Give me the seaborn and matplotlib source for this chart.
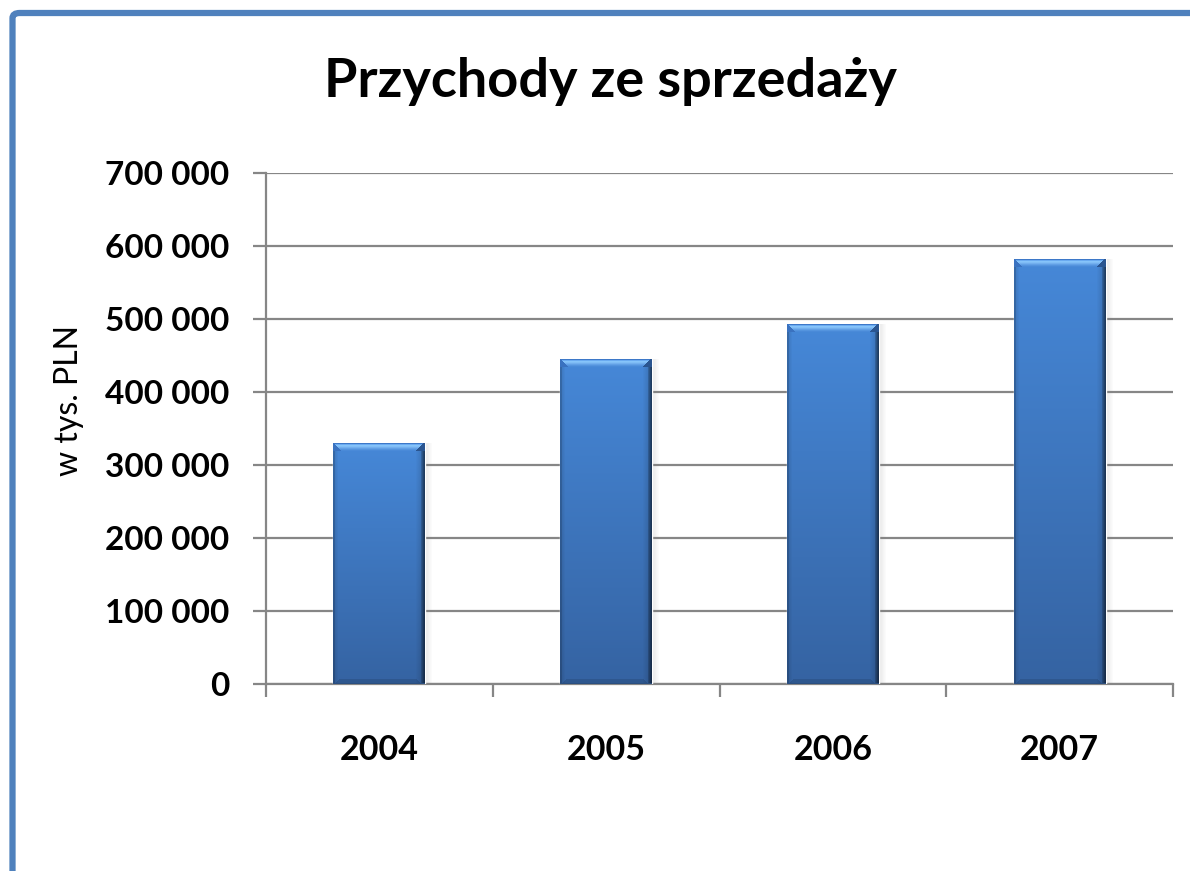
import numpy as np
import pandas as pd
import matplotlib
matplotlib.use("Agg")
import matplotlib.pyplot as plt
import seaborn as sns
from matplotlib.ticker import FuncFormatter, FixedLocator
from matplotlib.patches import FancyBboxPatch
from matplotlib.colors import to_rgb

# ---- data ----
years = ["2004", "2005", "2006", "2007"]
revenue = [330000, 445000, 493000, 582000]
y_ticks = [0, 100000, 200000, 300000, 400000, 500000, 600000, 700000]
title = "Przychody ze sprzedaży"
ylabel = "w tys. PLN"

sns.set_theme(style="white")
plt.rcParams["font.family"] = ["Lato", "DejaVu Sans"]

W, H, DPI = 1190, 871, 100
fig = plt.figure(figsize=(W / DPI, H / DPI), dpi=DPI)
fig.patch.set_facecolor("white")

ax_l, ax_r, ax_t, ax_b = 266, 1173, 173, 684
ax = fig.add_axes([ax_l / W, 1 - ax_b / H, (ax_r - ax_l) / W, (ax_b - ax_t) / H])

df = pd.DataFrame({"year": years, "revenue": revenue})
sns.barplot(data=df, x="year", y="revenue", color="#4282d2", width=0.405,
            ax=ax, zorder=3, saturation=1)

ax.set_xlim(-0.5, len(years) - 0.5)
ax.set_ylim(y_ticks[0], y_ticks[-1])
ax.yaxis.set_major_locator(FixedLocator(y_ticks))
ax.yaxis.set_major_formatter(FuncFormatter(lambda v, p: f"{int(v):,}".replace(",", " ")))

grid_c = "#868686"
ax.yaxis.grid(True, color=grid_c, lw=1.6)
ax.set_axisbelow(True)
for s in ["top", "right"]:
    ax.spines[s].set_visible(False)
for s in ["left", "bottom"]:
    ax.spines[s].set_color(grid_c)
    ax.spines[s].set_linewidth(1.6)

ax.tick_params(axis="y", which="major", direction="out", length=9.5, width=1.6,
               color=grid_c, left=True, pad=17, labelsize=24, labelcolor="black")
ax.set_xticks(np.arange(len(years)))
ax.set_xticklabels(years)
ax.set_xticks(np.arange(len(years) + 1) - 0.5, minor=True)
ax.tick_params(axis="x", which="major", length=0, pad=36, labelsize=24.5, labelcolor="black")
ax.tick_params(axis="x", which="minor", direction="out", length=9.5, width=1.6,
               color=grid_c, bottom=True)
for lab in ax.get_xticklabels() + ax.get_yticklabels():
    lab.set_fontweight("bold")

ax.set_xlabel("")

fig.text(610 / W, 1 - 81 / H, title, ha="center", va="center",
         fontsize=39, fontweight="bold", color="black")

# ---- gradient shading on bars ----
def rgb(c):
    return np.array(to_rgb(c))

top_c, bot_c = rgb("#4688d8"), rgb("#3563a2")
bevel_cols = ["#3d78c8", "#6aaaf0", "#86c4fa", "#80bdf6",
              "#72afee", "#62a0e6", "#5494de", "#4a8ad8"]
for patch in list(ax.patches):
    x0, y0 = patch.get_x(), patch.get_y()
    x1, y1 = x0 + patch.get_width(), y0 + patch.get_height()
    (px0, py0), (px1, py1) = ax.transData.transform([(x0, y0), (x1, y1)])
    nw, nh = max(int(round(px1 - px0)), 12), max(int(round(py1 - py0)), 12)
    rows = np.arange(nh)[:, None] / max(nh - 1, 1)
    img = np.zeros((nh, nw, 3))
    base = top_c + (bot_c - top_c) * rows
    img[:] = base[:, None, :]
    shade = np.ones(nw)
    shade[:2] = 0.78
    shade[-4:] = [0.72, 0.62, 0.52, 0.45]
    shade[2:6] *= np.linspace(0.92, 1.0, 4)
    shade[-10:-4] *= np.linspace(1.0, 0.9, 6)
    img *= shade[None, :, None]
    for r in range(min(len(bevel_cols), nh)):
        c0, c1 = r + 1, nw - r - 2
        if c1 > c0:
            img[r, c0:c1] = rgb(bevel_cols[r])
        img[r, :c0] = rgb("#3a72c0")
        img[r, max(c1, 0):] = rgb("#2a5590")
    for r in range(min(5, nh)):
        rr = nh - 1 - r
        img[rr, r + 2:nw - r - 4] *= 0.88
    img[-1, :] = rgb("#2b4f80")
    img = np.clip(img, 0, 1)
    ax.imshow(img, extent=(x0, x1, y0, y1), aspect="auto", zorder=4,
              interpolation="nearest", origin="upper")
    sh = np.zeros((1, 8, 4))
    sh[..., :3] = 0.5
    sh[0, :, 3] = np.linspace(0.18, 0.0, 8)
    dx = (x1 - x0) / nw
    ax.imshow(sh, extent=(x1, x1 + 8 * dx, y0, y1), aspect="auto", zorder=2.5,
              interpolation="bilinear")

ax.set_xlim(-0.5, len(years) - 0.5)
ax.set_ylim(y_ticks[0], y_ticks[-1])

ax.set_ylabel(ylabel, color="black")
ax.yaxis.label.set_fontsize(23)
ax.yaxis.set_label_coords((84 - ax_l) / (ax_r - ax_l), (ax_b - 400) / (ax_b - ax_t))

# ---- figure border ----
border = FancyBboxPatch((12.5 / W, -0.2), 1.5, 1 - 13 / H + 0.2,
                        boxstyle="round,pad=0,rounding_size=0.006",
                        transform=fig.transFigure, fill=False,
                        edgecolor="#4f81bd", lw=4.5, zorder=10, clip_on=False)
fig.patches.append(border)

fig.savefig("out.png", dpi=DPI, facecolor="white")
